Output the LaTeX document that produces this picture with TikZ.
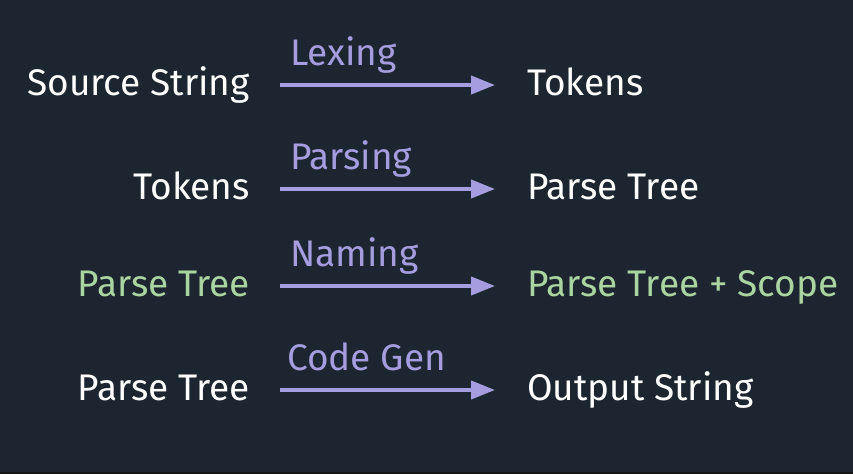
\documentclass[tikz,border=0pt]{standalone}
\usepackage{fontspec}
\setmainfont{Fira Sans}
\usetikzlibrary{arrows.meta}
\definecolor{bgcol}{HTML}{1D2630}
\definecolor{stripcol}{HTML}{161616}
\definecolor{txtcol}{HTML}{FFFFFF}
\definecolor{greencol}{HTML}{ABD5A0}
\definecolor{arrowcol}{HTML}{A59DDF}
\begin{document}
\begin{tikzpicture}[x=1pt,y=-1pt,
  item/.style={inner sep=0pt,font=\fontsize{37}{42}\selectfont,text=txtcol},
  green/.style={text=greencol},
  stage/.style={inner sep=0pt,font=\fontsize{37}{42}\selectfont,text=arrowcol,anchor=base west},
  flow/.style={draw=arrowcol,line width=4pt,-{Triangle[length=24pt,width=18pt]}}]
\fill[bgcol] (0,0) rectangle (853,474);
\fill[stripcol] (0,472) rectangle (853,474);
\useasboundingbox (0,0) rectangle (853,474);
\node[item,anchor=base east] (src) at (250,95) {Source String};
\node[item,anchor=base west] (tok) at (527,95) {Tokens};
\node[item,anchor=base east] (tokin) at (250,199) {Tokens};
\node[item,anchor=base west] (tree) at (527,199) {Parse Tree};
\node[item,green,anchor=base east] (treein) at (250,296) {Parse Tree};
\node[item,green,anchor=base west] (scope) at (527,296) {Parse Tree + Scope};
\node[item,anchor=base east] (gentree) at (250,400) {Parse Tree};
\node[item,anchor=base west] (out) at (527,400) {Output String};
\coordinate (lexA) at (280,85);
\coordinate (lexB) at (495,85);
\coordinate (parA) at (280,189);
\coordinate (parB) at (495,189);
\coordinate (namA) at (280,286);
\coordinate (namB) at (495,286);
\coordinate (genA) at (280,390);
\coordinate (genB) at (495,390);
\draw[flow] (lexA) -- (lexB);
\draw[flow] (parA) -- (parB);
\draw[flow] (namA) -- (namB);
\draw[flow] (genA) -- (genB);
\node[stage] (lex) at ([shift={(10,-20)}]lexA) {Lexing};
\node[stage] (par) at ([shift={(10,-20)}]parA) {Parsing};
\node[stage] (nam) at ([shift={(10,-20)}]namA) {Naming};
\node[stage] (gen) at ([shift={(7,-20)}]genA) {Code Gen};
\end{tikzpicture}
\end{document}
